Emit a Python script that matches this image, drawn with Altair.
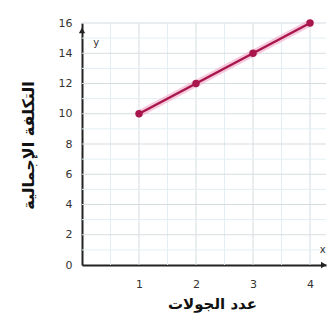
import altair as alt
import pandas as pd

rounds = [1, 2, 3, 4]
cost = [10, 12, 14, 16]
x_title = "عدد الجولات"
y_title = "التكلفة الإجمالية"
y_ticks = [0, 2, 4, 6, 8, 10, 12, 14, 16]
x_ticks = [1, 2, 3, 4]

df = pd.DataFrame({"x": rounds, "y": cost})

LINE = "#a8164c"
FONT = "DejaVu Sans"

xs = alt.Scale(domain=[0, 4.28], nice=False, zero=True)
ys = alt.Scale(domain=[0, 16], nice=False)

x_axis = alt.Axis(values=x_ticks, title=x_title, grid=False, ticks=False, domain=True,
                  domainColor="#222222", domainWidth=2, labelFont=FONT, labelFontSize=11,
                  labelColor="#333333", labelPadding=13, titleFont=FONT, titleFontSize=15,
                  titleFontWeight="bold", titleColor="#111111", titlePadding=7, titleX=130)
y_axis = alt.Axis(values=y_ticks, title=y_title, grid=False, ticks=False, domain=True,
                  domainColor="#222222", domainWidth=2, labelFont=FONT, labelFontSize=11,
                  labelColor="#333333", labelPadding=10, titleFont=FONT, titleFontSize=16,
                  titleFontWeight="bold", titleColor="#111111", titlePadding=22, titleY=122)

# grid lines
vgrid = pd.DataFrame({"gx": [0.5, 1, 1.5, 2, 2.5, 3, 3.5, 4],
                      "major": [0, 1, 0, 1, 0, 1, 0, 1]})
hgrid = pd.DataFrame({"gy": list(range(1, 17)),
                      "major": [i % 2 for i in range(2, 18)]})

gcol = alt.Color("major:N", scale=alt.Scale(domain=[0, 1], range=["#e2eff3", "#d6dde1"]), legend=None)

vg = alt.Chart(vgrid).mark_rule(strokeWidth=1).encode(
    x=alt.X("gx:Q", scale=xs, axis=x_axis), color=gcol)
hg = alt.Chart(hgrid).mark_rule(strokeWidth=1).encode(
    y=alt.Y("gy:Q", scale=ys, axis=y_axis), color=gcol)

glow = alt.Chart(df).mark_line(color="#f0a6c4", strokeWidth=7, opacity=0.6).encode(
    x=alt.X("x:Q", scale=xs, axis=x_axis),
    y=alt.Y("y:Q", scale=ys, axis=y_axis))
line = alt.Chart(df).mark_line(color=LINE, strokeWidth=2.5).encode(
    x=alt.X("x:Q", scale=xs, axis=x_axis), y=alt.Y("y:Q", scale=ys, axis=y_axis))
pts = alt.Chart(df).mark_circle(color=LINE, size=55, opacity=1).encode(
    x=alt.X("x:Q", scale=xs, axis=x_axis), y=alt.Y("y:Q", scale=ys, axis=y_axis))

arrows = pd.DataFrame({"ax": [0, 4.24], "ay": [15.5, 0], "shape": ["triangle-up", "triangle-right"]})
arr = alt.Chart(arrows).mark_point(filled=True, color="#222222", size=40, opacity=1, clip=False).encode(
    x=alt.X("ax:Q", scale=xs, axis=x_axis), y=alt.Y("ay:Q", scale=ys, axis=y_axis),
    shape=alt.Shape("shape:N", scale=None, legend=None))

letters = pd.DataFrame({"lx": [0.25, 4.22], "ly": [14.7, 1.0], "t": ["y", "x"]})
lab = alt.Chart(letters).mark_text(font=FONT, fontSize=10, color="#333333", clip=False).encode(
    x=alt.X("lx:Q", scale=xs, axis=x_axis), y=alt.Y("ly:Q", scale=ys, axis=y_axis), text="t:N")

chart = alt.layer(vg, hg, glow, line, pts, arr, lab).properties(
    width=244, height=242,
    autosize=alt.AutoSizeParams(type="none"),
    padding={"left": 74, "top": 15, "right": 2, "bottom": 51},
).configure_view(stroke=None)

chart.save("out.html", embed_options={"renderer": "svg", "actions": False})
